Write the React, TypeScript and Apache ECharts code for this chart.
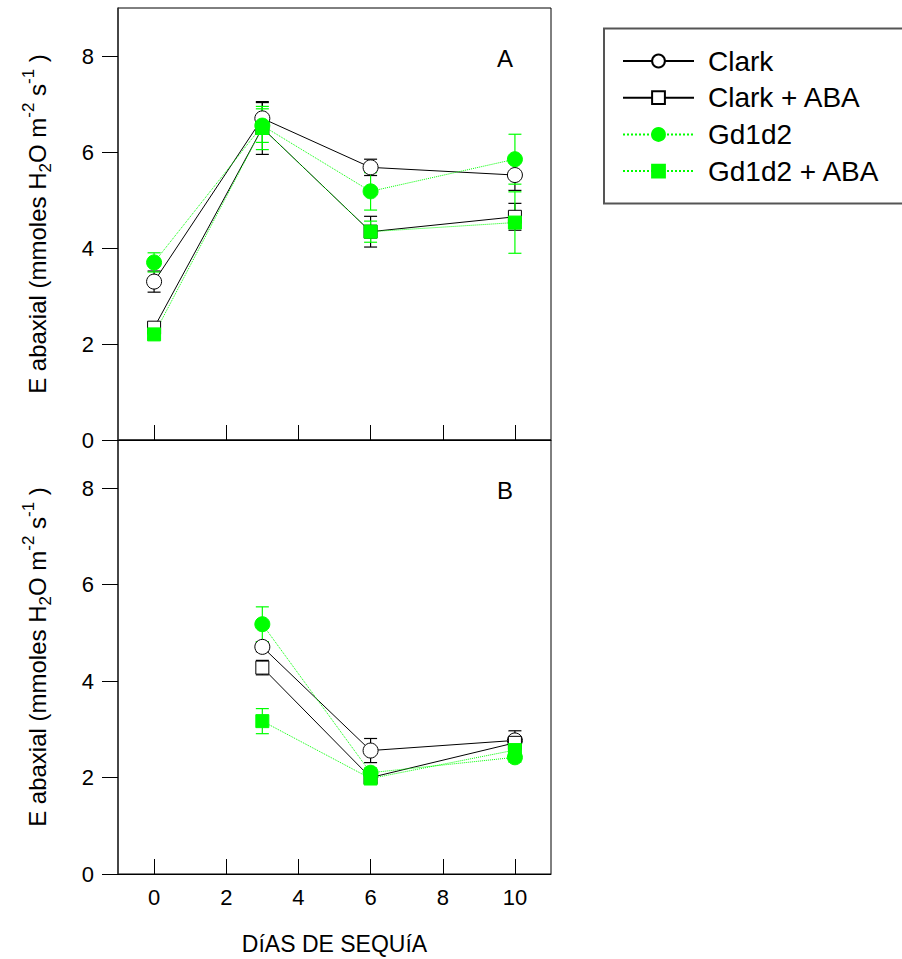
import React, { useEffect, useRef } from "react";
import * as echarts from "echarts";

const FONT = "'Liberation Sans', Arial, sans-serif";
const GREEN = "#00ff00";

// Panel A (days 0,3,6,10)
const daysA = [0, 3, 6, 10];
const clarkA = [3.3, 6.7, 5.68, 5.52];
const clarkErrA = [0.22, 0.33, 0.17, 0.32];
const clarkAbaA = [2.34, 6.5, 4.34, 4.65];
const clarkAbaErrA = [0.1, 0.55, 0.32, 0.28];
const gdA = [3.7, 6.55, 5.18, 5.85];
const gdErrA = [0.2, 0.35, 0.39, 0.52];
const gdAbaA = [2.2, 6.5, 4.34, 4.53];
const gdAbaErrA = [0.08, 0.45, 0.22, 0.64];

// Panel B (days 3,6,10)
const daysB = [3, 6, 10];
const clarkB = [4.71, 2.56, 2.77];
const clarkErrB = [0.1, 0.25, 0.2];
const clarkAbaB = [4.28, 2.0, 2.72];
const clarkAbaErrB = [0.15, 0.1, 0.12];
const gdB = [5.18, 2.1, 2.42];
const gdErrB = [0.36, 0.1, 0.1];
const gdAbaB = [3.17, 1.98, 2.57];
const gdAbaErrB = [0.26, 0.08, 0.1];

const xTicks = [0, 2, 4, 6, 8, 10];
const yTicks = [0, 2, 4, 6, 8];

const seriesNames = ["Clark", "Clark + ABA", "Gd1d2", "Gd1d2 + ABA"];
const xTitle = "DíAS DE SEQUíA";

const yName = "{n|E abaxial (mmoles H}{sub|2}{n|O m}{sup|-2}{n| s}{sup|-1}{n| )}";

function pairs(days: number[], vals: number[]) {
  return days.map((d, i) => [d, vals[i]]);
}
function triples(days: number[], vals: number[], errs: number[]) {
  return days.map((d, i) => [d, vals[i], errs[i]]);
}

function errRender(color: string) {
  return (_params: any, api: any) => {
    const x = api.value(0);
    const y = api.value(1);
    const e = api.value(2);
    const top = api.coord([x, y + e]);
    const bot = api.coord([x, y - e]);
    const hw = 6.5;
    const style = { stroke: color, lineWidth: 1.2 };
    return {
      type: "group",
      children: [
        { type: "line", shape: { x1: top[0], y1: top[1], x2: bot[0], y2: bot[1] }, style },
        { type: "line", shape: { x1: top[0] - hw, y1: top[1], x2: top[0] + hw, y2: top[1] }, style },
        { type: "line", shape: { x1: bot[0] - hw, y1: bot[1], x2: bot[0] + hw, y2: bot[1] }, style },
      ],
    };
  };
}

const styles = [
  { symbol: "circle", size: 15, fill: "#fff", stroke: "#000", line: "#000", type: "solid" },
  { symbol: "rect", size: 13, fill: "#fff", stroke: "#000", line: "#000", type: "solid" },
  { symbol: "circle", size: 15, fill: GREEN, stroke: GREEN, line: GREEN, type: "dotted" },
  { symbol: "rect", size: 13, fill: GREEN, stroke: GREEN, line: GREEN, type: "dotted" },
];

function buildSeries(panel: number, days: number[], vals: number[][], errs: number[][]) {
  const out: any[] = [];
  vals.forEach((v, i) => {
    const s = styles[i];
    out.push({
      type: "custom",
      name: seriesNames[i] + " err" + panel,
      xAxisIndex: panel,
      yAxisIndex: panel,
      renderItem: errRender(s.line),
      encode: { x: 0, y: 1 },
      data: triples(days, v, errs[i]),
      silent: true,
      z: 2,
    });
    out.push({
      type: "line",
      name: seriesNames[i],
      xAxisIndex: panel,
      yAxisIndex: panel,
      data: pairs(days, v),
      symbol: s.symbol,
      symbolSize: s.size,
      showAllSymbol: true,
      lineStyle: { color: s.line, width: 1, type: s.type },
      itemStyle: { color: s.fill, borderColor: s.stroke, borderWidth: 1, opacity: 1 },
      emphasis: { disabled: true },
      z: 2,
    });
  });
  return out;
}

function xAxis(gridIndex: number, showLabels: boolean) {
  return {
    type: "value",
    gridIndex,
    min: -1,
    max: 11,
    minInterval: 2,
    maxInterval: 2,
    axisLine: { show: true, onZero: false, lineStyle: { color: "#000", width: 1 } },
    axisTick: { show: true, inside: true, length: 15, customValues: xTicks, lineStyle: { color: "#000", width: 1 } },
    axisLabel: {
      show: showLabels,
      customValues: xTicks,
      fontSize: 22,
      color: "#000",
      fontFamily: FONT,
      margin: 12,
    },
    splitLine: { show: false },
    name: showLabels ? xTitle : "",
    nameLocation: "middle",
    nameGap: 58,
    nameTextStyle: { fontSize: 23, color: "#000", fontFamily: FONT },
  };
}

function yAxis(gridIndex: number) {
  return {
    type: "value",
    gridIndex,
    min: 0,
    max: 9,
    axisLine: { show: true, onZero: false, lineStyle: { color: "#333", width: 1.5 } },
    axisTick: { show: true, inside: false, length: 16, customValues: yTicks, lineStyle: { color: "#000", width: 1 } },
    axisLabel: {
      customValues: yTicks,
      fontSize: 22,
      color: "#000",
      fontFamily: FONT,
      margin: 24,
    },
    splitLine: { show: false },
    name: yName,
    nameLocation: "middle",
    nameRotate: 90,
    nameGap: 64,
    nameTextStyle: {
      color: "#000",
      fontFamily: FONT,
      rich: {
        n: { fontSize: 24, fontFamily: FONT, color: "#000", lineHeight: 34, verticalAlign: "middle" },
        sub: { fontSize: 17, fontFamily: FONT, color: "#000", lineHeight: 34, verticalAlign: "bottom" },
        sup: { fontSize: 17, fontFamily: FONT, color: "#000", lineHeight: 34, verticalAlign: "top" },
      },
    },
  };
}

export default function App() {
  const ref = useRef<HTMLDivElement>(null);
  useEffect(() => {
    if (!ref.current) return;
    const chart = echarts.init(ref.current, null, { renderer: "svg" });
    const option: any = {
      animation: false,
      backgroundColor: "#fff",
      textStyle: { fontFamily: FONT },
      grid: [
        { left: 118, top: 8, width: 433, height: 432, show: true, borderColor: "#000", borderWidth: 1, backgroundColor: "transparent" },
        { left: 118, top: 440, width: 433, height: 434, show: true, borderColor: "#000", borderWidth: 1, backgroundColor: "transparent" },
      ],
      xAxis: [xAxis(0, false), xAxis(1, true)],
      yAxis: [yAxis(0), yAxis(1)],
      legend: {
        data: seriesNames,
        orient: "vertical",
        left: 617,
        top: 42,
        itemWidth: 71,
        itemHeight: 16,
        itemGap: 8.7,
        selectedMode: false,
        textStyle: { fontSize: 28, color: "#000", fontFamily: FONT, lineHeight: 28, padding: [0, 0, 0, 9] },
      },
      graphic: [
        {
          type: "rect",
          shape: { x: 604, y: 28.5, width: 380, height: 175 },
          style: { fill: "none", stroke: "#555", lineWidth: 2 },
          silent: true,
        },
        {
          type: "text",
          left: 497,
          top: 46,
          style: { text: "A", fontSize: 24, fill: "#000", fontFamily: FONT },
        },
        {
          type: "text",
          left: 497,
          top: 478,
          style: { text: "B", fontSize: 24, fill: "#000", fontFamily: FONT },
        },
      ],
      series: [
        ...buildSeries(0, daysA, [clarkA, clarkAbaA, gdA, gdAbaA], [clarkErrA, clarkAbaErrA, gdErrA, gdAbaErrA]),
        ...buildSeries(1, daysB, [clarkB, clarkAbaB, gdB, gdAbaB], [clarkErrB, clarkAbaErrB, gdErrB, gdAbaErrB]),
      ],
    };
    chart.setOption(option);
    return () => chart.dispose();
  }, []);
  return (
    <div
      ref={ref}
      style={{ position: "fixed", left: 0, top: 0, width: 902, height: 959, background: "#fff" }}
    />
  );
}
